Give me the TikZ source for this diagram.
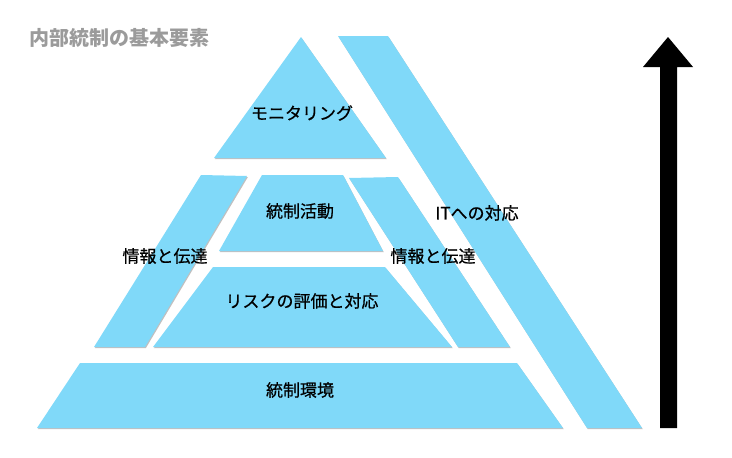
\documentclass[tikz,border=0pt]{standalone}
\usepackage{fontspec}
\newfontfamily\jp[FakeBold=0.6]{Noto Sans CJK JP}
\newfontfamily\jpt{Noto Sans CJK JP}
\usetikzlibrary{shadows}
\definecolor{band}{RGB}{128,217,249}
\definecolor{ttl}{RGB}{155,155,155}
\begin{document}
\begin{tikzpicture}[x=1pt,y=-1pt,
  part/.style={fill=band, drop shadow={shadow xshift=0.8pt,shadow yshift=-1.2pt,opacity=0.45,fill=black!55}},
  lbl/.style={font=\jp\fontsize{17}{17}\selectfont, text=black, inner sep=0pt},
  ttlstyle/.style={font=\jpt\bfseries\fontsize{20}{20}\selectfont, text=ttl, inner sep=0pt}]
\useasboundingbox (0,0) rectangle (732,458);
% shapes
\path[part] (301,37)--(386,158)--(214,158)--cycle;
\path[part] (338,36)--(388,36)--(642,428)--(587,428)--cycle;
\path[part] (349,178)--(398,177)--(510,347)--(458,347)--cycle;
\path[part] (201,175)--(247,176)--(145,347)--(94,347)--cycle;
\path[part] (262,175)--(343,175)--(383,251)--(219,251)--cycle;
\path[part] (213,267)--(385,267)--(452,347)--(153,347)--cycle;
\path[part] (80,363)--(517,363)--(563,428)--(37,428)--cycle;
% arrow
\fill[black] (668,37)--(693,67)--(677,67)--(677,428)--(660,428)--(660,67)--(643,67)--cycle;
% labels
\node[ttlstyle] (title) at (120,38) {内部統制の基本要素};
\node[lbl] (mon) at (302,113) {モニタリング};
\node[lbl] (act) at (300,211) {統制活動};
\node[lbl] (risk) at (302,301) {リスクの評価と対応};
\node[lbl] (env) at (300,390) {統制環境};
\node[lbl] (infl) at (165,256) {情報と伝達};
\node[lbl] (infr) at (433,256) {情報と伝達};
\node[lbl] (it) at (477,213) {ITへの対応};
\end{tikzpicture}
\end{document}
